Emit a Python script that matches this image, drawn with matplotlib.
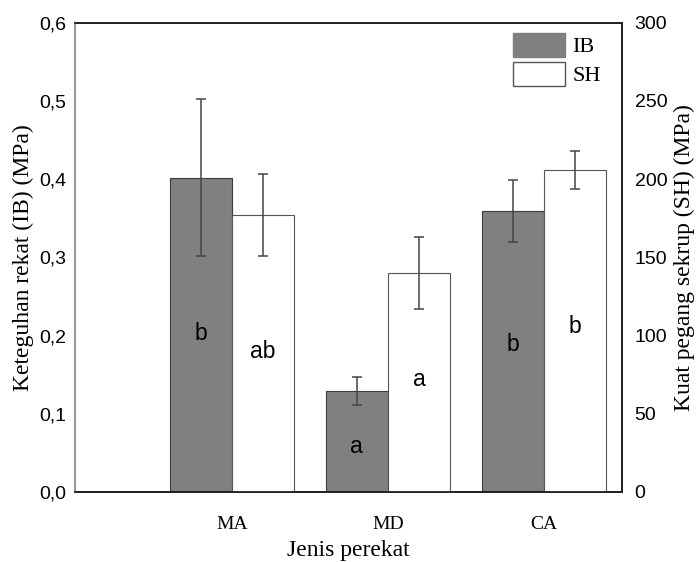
import numpy as np
import matplotlib
matplotlib.use("Agg")
import matplotlib.pyplot as plt
from matplotlib.patches import Patch
from matplotlib.ticker import FuncFormatter

# data
kategori = ["MA", "MD", "CA"]
ib = [0.402, 0.129, 0.359]
ib_err = [0.100, 0.018, 0.040]
sh = [177, 140, 206]
sh_err = [26, 23, 12]
huruf_ib = ["b", "a", "b"]
huruf_sh = ["ab", "a", "b"]
# vertical positions of the letters (in each axis' own units)
pos_ib = [0.203, 0.058, 0.188]
pos_sh = [89.5, 72, 105.7]

serif = "Liberation Serif"
sans = "Liberation Sans"

fig = plt.figure(figsize=(6.97, 5.62), dpi=100)
ax = fig.add_axes([75/697, 70/562, 547/697, 469.3/562])
ax2 = ax.twinx()

x = np.arange(len(kategori))
w = 0.4

ax.bar(x - w/2, ib, w, color="#808080", edgecolor="#3c3c3c", linewidth=0.8, zorder=2)
ax.errorbar(x - w/2, ib, yerr=ib_err, fmt="none", ecolor="#444444",
            elinewidth=1.1, capsize=3.6, capthick=1.1, zorder=3)
ax2.bar(x + w/2, sh, w, color="white", edgecolor="#555555", linewidth=0.8, zorder=2)
ax2.errorbar(x + w/2, sh, yerr=sh_err, fmt="none", ecolor="#444444",
             elinewidth=1.1, capsize=3.6, capthick=1.1, zorder=3)

for i in range(len(kategori)):
    ax.text(x[i] - w/2, pos_ib[i], huruf_ib[i], ha="center", va="center",
            fontsize=16.5, family=sans)
    ax2.text(x[i] + w/2, pos_sh[i], huruf_sh[i], ha="center", va="center",
             fontsize=16.5, family=sans)

ax.set_xlim(-1.006, 2.5)
ax.set_ylim(0, 0.6)
ax2.set_ylim(0, 300)
ax.set_yticks([0, 0.1, 0.2, 0.3, 0.4, 0.5, 0.6])
ax2.set_yticks([0, 50, 100, 150, 200, 250, 300])
ax.yaxis.set_major_formatter(FuncFormatter(lambda v, p: f"{v:.1f}".replace(".", ",")))

ax.set_xticks(x)
ax.set_xticklabels(kategori, family=serif, fontsize=14)
ax.tick_params(axis="x", length=0, pad=17)
ax.tick_params(axis="y", length=0, pad=6, labelsize=14)
ax2.tick_params(axis="y", length=0, pad=9, labelsize=14)
for lab in ax.get_yticklabels() + ax2.get_yticklabels():
    lab.set_family(sans)

ax.set_xlabel("Jenis perekat", family=serif, fontsize=17, labelpad=5)
ax.set_ylabel("Keteguhan rekat (IB) (MPa)", family=serif, fontsize=17, labelpad=4)
ax2.set_ylabel("Kuat pegang sekrup (SH) (MPa)", family=serif, fontsize=17, labelpad=5)

for a in (ax, ax2):
    a.spines["left"].set_color("#999999")
    a.spines["left"].set_linewidth(1.5)
    for s in ("top", "right", "bottom"):
        a.spines[s].set_color("#222222")
        a.spines[s].set_linewidth(1.3)

handles = [Patch(facecolor="#808080", edgecolor="#808080"),
           Patch(facecolor="white", edgecolor="#555555")]
ax2.legend(handles, ["IB", "SH"], loc="upper right", bbox_to_anchor=(0.99, 1.012),
           frameon=False, prop={"family": serif, "size": 16},
           handlelength=2.35, handleheight=1.3, labelspacing=0.2,
           handletextpad=0.35, borderaxespad=0.3)

fig.savefig("out.png", dpi=100)
